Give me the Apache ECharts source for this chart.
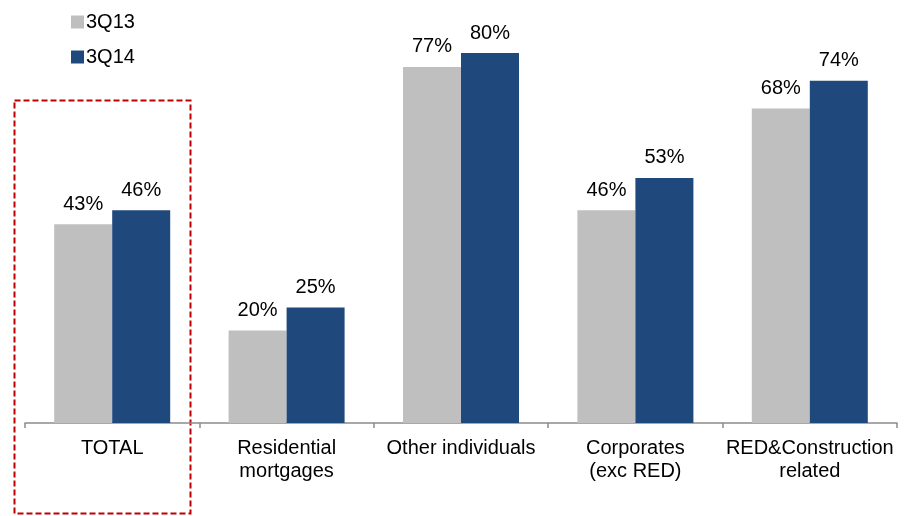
<!DOCTYPE html>
<html>
<head>
<meta charset="utf-8">
<script src="https://cdn.jsdelivr.net/npm/echarts@6/dist/echarts.min.js"></script>
<style>html,body{margin:0;padding:0;background:#fff}#c{width:912px;height:516px}</style>
</head>
<body>
<div id="c"></div>
<script>
var categories = ['TOTAL', 'Residential\nmortgages', 'Other individuals', 'Corporates\n(exc RED)', 'RED&Construction\nrelated'];
var series3Q13 = [43, 20, 77, 46, 68];
var series3Q14 = [46, 25, 80, 53, 74];
var seriesNames = ['3Q13', '3Q14'];

var chart = echarts.init(document.getElementById('c'));
var font = 'Liberation Sans, Arial, sans-serif';
chart.setOption({
  animation: false,
  grid: { left: 25, right: 15, top: 53, bottom: 93 },
  legend: {
    orient: 'vertical', left: 66, top: 7,
    itemWidth: 13, itemHeight: 13, itemGap: 15,
    icon: 'rect',
    textStyle: { fontFamily: font, fontSize: 20, color: '#000', padding: [0,0,0,-3] },
    data: seriesNames
  },
  xAxis: {
    type: 'category', data: categories,
    axisLine: { lineStyle: { color: '#8c8c8c', width: 1.5 } },
    axisTick: { show: true, length: 5, lineStyle: { color: '#8c8c8c', width: 1.5 } },
    axisLabel: { fontFamily: font, fontSize: 20, color: '#000', margin: 14, lineHeight: 23, interval: 0 }
  },
  yAxis: { type: 'value', min: 0, max: 80, show: false, splitLine: { show: false } },
  series: [
    { name: seriesNames[0], type: 'bar', data: series3Q13, barWidth: 58, barGap: '0%',
      itemStyle: { color: '#BFBFBF' },
      label: { show: true, position: 'top', distance: 10, formatter: '{c}%', fontFamily: font, fontSize: 20, color: '#000' } },
    { name: seriesNames[1], type: 'bar', data: series3Q14, barWidth: 58,
      itemStyle: { color: '#1F497D' },
      label: { show: true, position: 'top', distance: 10, formatter: '{c}%', fontFamily: font, fontSize: 20, color: '#000' } }
  ],
  graphic: [{
    type: 'rect', left: 12, top: 98,
    shape: { width: 176, height: 413 },
    style: { fill: 'none', stroke: '#C00000', lineWidth: 2, lineDash: [6, 3] }
  }]
});
</script>
</body>
</html>
